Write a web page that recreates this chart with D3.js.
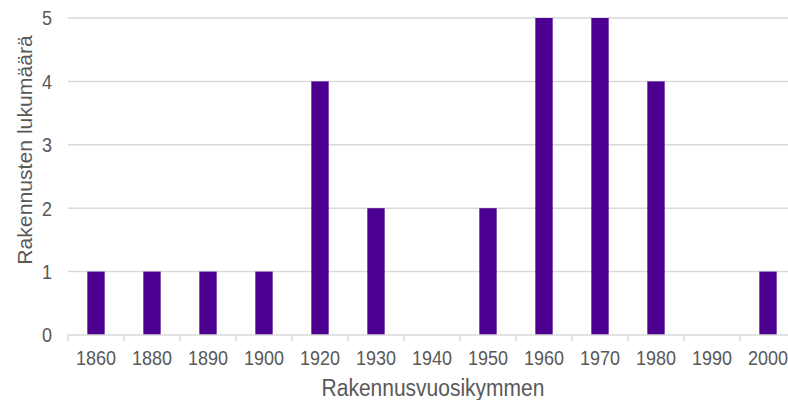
<!DOCTYPE html>
<html>
<head>
<meta charset="utf-8">
<script src="https://cdn.jsdelivr.net/npm/d3@7"></script>
<style>
  html, body { margin: 0; padding: 0; background: #fff; }
  svg { display: block; font-family: "Liberation Sans", Arial, sans-serif; }
</style>
</head>
<body>
<svg id="chart" width="788" height="400"></svg>
<script>
// Rakennusten lukumäärä rakennusvuosikymmenittäin
const decades = ["1860", "1880", "1890", "1900", "1920", "1930", "1940", "1950", "1960", "1970", "1980", "1990", "2000"];
const counts  = [1, 1, 1, 1, 4, 2, 0, 2, 5, 5, 4, 0, 1];
const yTicks  = [0, 1, 2, 3, 4, 5];

const svg = d3.select("#chart");
const textColor = "#595959";
const gridColor = "#d9d9d9";
const barColor = "#4b0092";
const stretchY = 1.13;   // text is drawn slightly taller than wide

const plotLeft = 68, plotRight = 796, plotTop = 18, plotBottom = 335;

const x = d3.scaleBand().domain(decades).range([plotLeft, plotRight]).paddingInner(0.69).paddingOuter(0.345);
const y = d3.scaleLinear().domain([0, 5]).range([plotBottom, plotTop]);

// horizontal gridlines
svg.append("g")
  .selectAll("line")
  .data(yTicks.filter(d => d > 0))
  .join("line")
  .attr("x1", plotLeft).attr("x2", 788)
  .attr("y1", d => y(d)).attr("y2", d => y(d))
  .attr("stroke", gridColor).attr("stroke-width", 1.5);

// y-axis labels
svg.append("g")
  .selectAll("g")
  .data(yTicks)
  .join("g")
  .attr("transform", d => `translate(52,${y(d)}) scale(1,${stretchY})`)
  .append("text")
  .attr("dy", "0.36em")
  .attr("text-anchor", "end")
  .attr("fill", textColor)
  .attr("font-size", 18)
  .text(d => d);

// bars
svg.append("g")
  .selectAll("rect")
  .data(decades.map((d, i) => ({ d, v: counts[i] })))
  .join("rect")
  .attr("x", o => x(o.d))
  .attr("width", x.bandwidth())
  .attr("y", o => y(o.v))
  .attr("height", o => y(0) - y(o.v))
  .attr("fill", barColor);

// x axis with category separators
const step = x.step();
const xAxis = svg.append("g").attr("transform", `translate(0,${plotBottom})`);
xAxis.append("line")
  .attr("x1", plotLeft).attr("x2", 788)
  .attr("stroke", gridColor).attr("stroke-width", 1.5);
xAxis.selectAll("line.tick")
  .data(d3.range(decades.length + 1))
  .join("line")
  .attr("class", "tick")
  .attr("x1", i => plotLeft + i * step).attr("x2", i => plotLeft + i * step)
  .attr("y1", 0).attr("y2", 6)
  .attr("stroke", gridColor).attr("stroke-width", 1.5);
xAxis.selectAll("g.label")
  .data(decades)
  .join("g")
  .attr("class", "label")
  .attr("transform", d => `translate(${x(d) + x.bandwidth() / 2},30) scale(1,${stretchY})`)
  .append("text")
  .attr("text-anchor", "middle")
  .attr("fill", textColor)
  .attr("font-size", 18)
  .text(d => d);

// axis titles
svg.append("g")
  .attr("transform", `translate(433,396) scale(1,${stretchY})`)
  .append("text")
  .attr("text-anchor", "middle")
  .attr("fill", textColor)
  .attr("font-size", 21)
  .text("Rakennusvuosikymmen");

svg.append("g")
  .attr("transform", "translate(32,150) scale(1,1.06) rotate(-90)")
  .append("text")
  .attr("text-anchor", "middle")
  .attr("fill", textColor)
  .attr("font-size", 20)
  .text("Rakennusten lukumäärä");
</script>
</body>
</html>
